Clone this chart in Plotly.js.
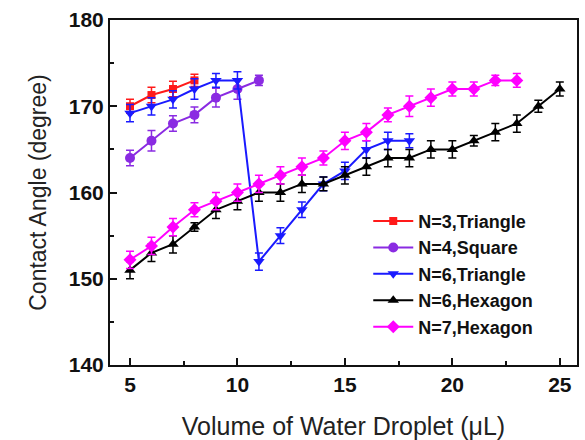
<!DOCTYPE html>
<html>
<head>
<meta charset="utf-8">
<script src="https://cdn.plot.ly/plotly-3.0.1.min.js"></script>
<style>html,body{margin:0;padding:0;background:#fff;}#chart{width:585px;height:440px;}</style>
</head>
<body>
<div id="chart"></div>
<script>
const x3 = [5, 6, 7, 8];
const y3 = [170, 171.3, 172, 173];
const e3 = [0.8, 0.9, 0.9, 0.7];

const x4 = [5, 6, 7, 8, 9, 10, 11];
const y4 = [164, 166, 168, 169, 171, 172, 173];
const e4 = [0.9, 1.2, 0.9, 0.9, 1.1, 1.2, 0.6];

const x6t = [5, 6, 7, 8, 9, 10, 11, 12, 13, 14, 15, 16, 17, 18];
const y6t = [169.2, 170, 170.8, 172, 173, 173, 152, 155, 158, 161, 162.5, 165, 166, 166];
const e6t = [1, 1, 1, 1.2, 0.8, 1, 1, 0.9, 0.9, 0.8, 1, 1, 1, 0.8];

const x6h = [5, 6, 7, 8, 9, 10, 11, 12, 13, 14, 15, 16, 17, 18, 19, 20, 21, 22, 23, 24, 25];
const y6h = [151, 153, 154, 156, 158, 159, 160, 160, 161, 161, 162, 163, 164, 164, 165, 165, 166, 167, 168, 170, 172];
const e6h = [1, 1, 1, 0.5, 1, 1, 1, 1, 1, 0.8, 1, 1, 1, 1, 1, 1, 0.6, 1, 1, 0.7, 0.8];

const x7 = [5, 6, 7, 8, 9, 10, 11, 12, 13, 14, 15, 16, 17, 18, 19, 20, 21, 22, 23];
const y7 = [152.2, 153.8, 156, 158, 159, 160, 161, 162, 163, 164, 166, 167, 169, 170, 171, 172, 172, 173, 173];
const e7 = [1, 1, 1, 0.8, 1, 1, 1, 1, 1, 0.8, 1, 1, 0.8, 1.2, 1, 0.8, 0.8, 0.6, 0.8];

function tr(name, x, y, e, color, symbol, size) {
  return {
    type: 'scatter', mode: 'lines+markers', name: name, x: x, y: y,
    line: {color: color, width: 2},
    marker: {color: color, symbol: symbol, size: size},
    error_y: {type: 'data', array: e, visible: true, color: color, thickness: 1.5, width: 4}
  };
}

const data = [
  tr('N=3,Triangle', x3, y3, e3, '#ff1a1a', 'square', 8),
  tr('N=4,Square', x4, y4, e4, '#8a2be2', 'circle', 10),
  tr('N=6,Triangle', x6t, y6t, e6t, '#1a1aff', 'triangle-down', 10),
  tr('N=6,Hexagon', x6h, y6h, e6h, '#000000', 'triangle-up', 10),
  tr('N=7,Hexagon', x7, y7, e7, '#ff00ff', 'diamond', 10)
];

const FONT = 'Arial, Liberation Sans, sans-serif';

const layout = {
  width: 585, height: 440,
  margin: {l: 110, r: 8, t: 20, b: 75},
  paper_bgcolor: '#ffffff', plot_bgcolor: '#ffffff',
  showlegend: true,
  legend: {
    x: 0.553, y: 0.47, xanchor: 'left', yanchor: 'top',
    bgcolor: 'rgba(0,0,0,0)', borderwidth: 0,
    font: {family: FONT, size: 18, color: '#111', weight: 'bold'},
    tracegroupgap: 0, itemwidth: 40
  },
  xaxis: {
    range: [4.07, 25.8], tick0: 0, dtick: 5,
    ticks: 'inside', ticklen: 7, tickwidth: 2, tickcolor: '#111',
    minor: {dtick: 2.5, ticks: 'inside', ticklen: 4, tickwidth: 2, tickcolor: '#111'},
    showline: true, linecolor: '#111', linewidth: 2, mirror: true,
    showgrid: false, zeroline: false,
    tickfont: {family: FONT, size: 21, color: '#111', weight: 'bold'},
    title: {text: 'Volume of Water Droplet (μL)', standoff: 22,
      font: {family: FONT, size: 25, color: '#222'}}
  },
  yaxis: {
    range: [140, 180], tick0: 140, dtick: 10,
    ticks: 'inside', ticklen: 7, tickwidth: 2, tickcolor: '#111',
    minor: {dtick: 5, ticks: 'inside', ticklen: 4, tickwidth: 2, tickcolor: '#111'},
    showline: true, linecolor: '#111', linewidth: 2, mirror: true,
    showgrid: false, zeroline: false,
    tickfont: {family: FONT, size: 21, color: '#111', weight: 'bold'},
    title: {text: 'Contact Angle (degree)', standoff: 16,
      font: {family: FONT, size: 23, color: '#222'}}
  }
};

Plotly.newPlot('chart', data, layout, {displayModeBar: false, staticPlot: true});
</script>
</body>
</html>
